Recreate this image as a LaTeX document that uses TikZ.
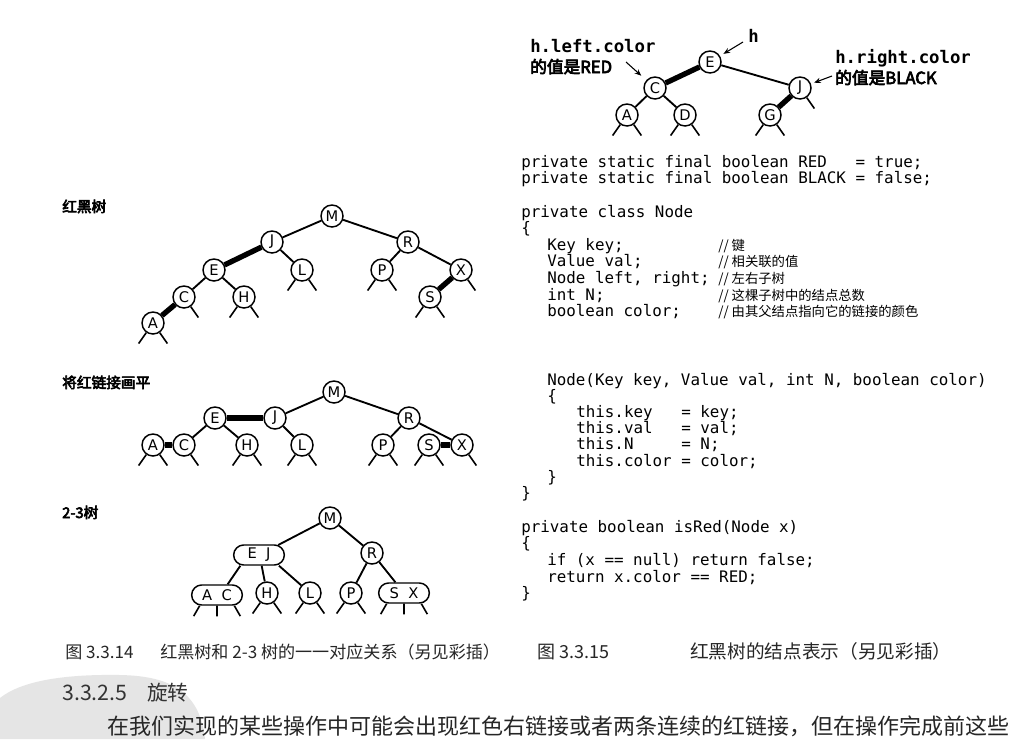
\documentclass[tikz,border=0pt]{standalone}
\usepackage{fontspec}
\setmainfont{Liberation Serif}
\setsansfont{DejaVu Sans}
\setmonofont{DejaVu Sans Mono}
\newfontfamily\cjk{Noto Sans CJK SC}
\newfontfamily\cjkbold[FakeBold=4]{Noto Sans CJK SC}
\usetikzlibrary{arrows.meta,shapes.misc}

\begin{document}
\begin{tikzpicture}[
    x = 0.75pt, y = -0.75pt, % one unit = one pixel of the scan
    rb/.style = {circle, draw, line width=1.1pt, fill=white, inner sep=0pt,
                 minimum size=16.5pt, font=\sffamily\fontsize{11}{11}\selectfont},
    keys/.style = {rounded rectangle, draw, line width=1.1pt, fill=white, inner sep=0pt,
                   minimum width=38pt, minimum height=15pt, font=\sffamily\fontsize{11}{11}\selectfont},
    blacklink/.style = {line width=1.4pt},
    redlink/.style = {line width=4pt},
    nulllink/.style = {line width=1.2pt},
    ptr/.style = {-{Stealth[length=5pt,width=4pt]}, line width=0.8pt},
    code/.style = {anchor=base west, inner sep=0pt, font=\ttfamily\fontsize{11.9}{12}\selectfont},
    remark/.style = {anchor=base west, inner sep=0pt, font=\cjk\fontsize{10}{10}\selectfont},
    label/.style = {anchor=base west, inner sep=0pt, font=\cjkbold\fontsize{11}{12}\selectfont},
    caption/.style = {anchor=base west, inner sep=0pt, font=\cjk\fontsize{12.8}{13}\selectfont, text=black!85}
    ]

    \path[use as bounding box, fill=white] (0,0) rectangle (1035,739);

    % grey blob behind the section heading
    \fill[gray!20] (0,739) -- (0,698) .. controls (20,682) and (60,674) .. (120,675)
        .. controls (175,676) and (200,695) .. (205,739) -- cycle;

    % ---- node of a red-black tree (top right)
    \node[rb] (hE) at (710,62) {E};
    \node[rb] (hC) at (655,88) {C};
    \node[rb] (hJ) at (800,88) {J};
    \node[rb] (hA) at (627,115) {A};
    \node[rb] (hD) at (685,115) {D};
    \node[rb] (hG) at (770,115) {G};
    \draw[redlink] (hE) -- (hC);
    \draw[blacklink] (hE) -- (hJ);
    \draw[blacklink] (hC) -- (hA);
    \draw[blacklink] (hC) -- (hD);
    \draw[redlink] (hJ) -- (hG);
    \foreach \n in {hA,hD,hG}
        \draw[nulllink] (\n.235) -- ++(235:10pt) (\n.-55) -- ++(-55:10pt);
    \draw[nulllink] (hJ.-55) -- ++(-55:10pt);

    \node[anchor=base west, inner sep=0pt, font=\ttfamily\bfseries\fontsize{13}{14}\selectfont]
        (lefttxt) at (530,52) {h.left.color};
    \node[anchor=base west, inner sep=0pt, font=\cjkbold\fontsize{12.5}{13}\selectfont]
        (leftval) at (530,73) {的值是RED};
    \node[anchor=base west, inner sep=0pt, font=\ttfamily\bfseries\fontsize{13}{14}\selectfont]
        (htxt) at (748,42) {h};
    \node[anchor=base west, inner sep=0pt, font=\ttfamily\bfseries\fontsize{13}{14}\selectfont]
        (righttxt) at (835,63) {h.right.color};
    \node[anchor=base west, inner sep=0pt, font=\cjkbold\fontsize{12.5}{13}\selectfont]
        (rightval) at (835,84) {的值是BLACK};
    \coordinate (redtail) at (626,62);
    \coordinate (htail) at (743,42);
    \coordinate (blacktail) at (832,76);
    \draw[ptr, shorten >=5pt] (redtail) -- (hC);
    \draw[ptr, shorten >=3pt] (htail) -- (hE);
    \draw[ptr, shorten >=2.5pt] (blacktail) -- (hJ);

    % ---- code
    \node[code] (c1) at (521,167) {private static final boolean RED~~~= true;};
    \node[code] (c2) at (521,183) {private static final boolean BLACK = false;};
    \node[code] (c3) at (521,217) {private class Node};
    \node[code] (c4) at (521,233) {\{};
    \node[code] (c5) at (547,250) {Key key;};
    \node[code] (c6) at (547,266) {Value val;};
    \node[code] (c7) at (547,283) {Node left, right;};
    \node[code] (c8) at (547,300) {int N;};
    \node[code] (c9) at (547,316) {boolean color;};
    \node[remark] (r5) at (718,250) {// 键};
    \node[remark] (r6) at (718,266) {// 相关联的值};
    \node[remark] (r7) at (718,283) {// 左右子树};
    \node[remark] (r8) at (718,300) {// 这棵子树中的结点总数};
    \node[remark] (r9) at (718,316) {// 由其父结点指向它的链接的颜色};
    \node[code] (c10) at (547,385) {Node(Key key, Value val, int N, boolean color)};
    \node[code] (c11) at (547,401) {\{};
    \node[code] (c12) at (576,417) {this.key~~~= key;};
    \node[code] (c13) at (576,433) {this.val~~~= val;};
    \node[code] (c14) at (576,449) {this.N~~~~~= N;};
    \node[code] (c15) at (576,466) {this.color = color;};
    \node[code] (c16) at (547,482) {\}};
    \node[code] (c17) at (521,498) {\}};
    \node[code] (c18) at (521,532) {private boolean isRed(Node x)};
    \node[code] (c19) at (521,548) {\{};
    \node[code] (c20) at (547,565) {if (x == null) return false;};
    \node[code] (c21) at (547,582) {return x.color == RED;};
    \node[code] (c22) at (521,598) {\}};

    % ---- red-black tree
    \node[label] (rbname) at (62,212) {红黑树};
    \node[rb] (rbM) at (332,216) {M};
    \node[rb] (rbJ) at (272,242) {J};
    \node[rb] (rbR) at (408,242) {R};
    \node[rb] (rbE) at (214,270) {E};
    \node[rb] (rbL) at (302,270) {L};
    \node[rb] (rbP) at (382,270) {P};
    \node[rb] (rbX) at (461,270) {X};
    \node[rb] (rbC) at (184,297) {C};
    \node[rb] (rbH) at (244,297) {H};
    \node[rb] (rbS) at (430,297) {S};
    \node[rb] (rbA) at (153,323) {A};
    \draw[blacklink] (rbM) -- (rbJ);
    \draw[blacklink] (rbM) -- (rbR);
    \draw[redlink] (rbJ) -- (rbE);
    \draw[blacklink] (rbJ) -- (rbL);
    \draw[blacklink] (rbR) -- (rbP);
    \draw[blacklink] (rbR) -- (rbX);
    \draw[blacklink] (rbE) -- (rbC);
    \draw[blacklink] (rbE) -- (rbH);
    \draw[redlink] (rbX) -- (rbS);
    \draw[redlink] (rbC) -- (rbA);
    \foreach \n in {rbA,rbH,rbL,rbP,rbS}
        \draw[nulllink] (\n.235) -- ++(235:10pt) (\n.-55) -- ++(-55:10pt);
    \foreach \n in {rbC,rbX}
        \draw[nulllink] (\n.-55) -- ++(-55:10pt);

    % ---- red links drawn flat
    \node[label] (flatname) at (62,388) {将红链接画平};
    \node[rb] (flM) at (334,392) {M};
    \node[rb] (flE) at (215,418) {E};
    \node[rb] (flJ) at (275,418) {J};
    \node[rb] (flR) at (409,418) {R};
    \node[rb] (flA) at (153,445) {A};
    \node[rb] (flC) at (184,445) {C};
    \node[rb] (flH) at (247,445) {H};
    \node[rb] (flL) at (302,445) {L};
    \node[rb] (flP) at (383,445) {P};
    \node[rb] (flS) at (429,445) {S};
    \node[rb] (flX) at (462,445) {X};
    \draw[blacklink] (flM) -- (flJ);
    \draw[blacklink] (flM) -- (flR);
    \draw[redlink] (flE) -- (flJ);
    \draw[blacklink] (flE) -- (flC);
    \draw[blacklink] (flE) -- (flH);
    \draw[blacklink] (flJ) -- (flL);
    \draw[blacklink] (flR) -- (flP);
    \draw[blacklink] (flR) -- (flX);
    \draw[redlink] (flA) -- (flC);
    \draw[redlink] (flS) -- (flX);
    \foreach \n in {flA,flH,flL,flP,flS}
        \draw[nulllink] (\n.235) -- ++(235:10pt) (\n.-55) -- ++(-55:10pt);
    \foreach \n in {flC,flX}
        \draw[nulllink] (\n.-55) -- ++(-55:10pt);

    % ---- 2-3 tree
    \node[label] (ttname) at (62,518) {2-3树};
    \node[rb] (ttM) at (330,518) {M};
    \node[keys] (ttEJ) at (259,555) {E\hspace{7pt}J};
    \node[rb] (ttR) at (372,553) {R};
    \node[keys] (ttAC) at (217,595) {A\hspace{7pt}C};
    \node[rb] (ttH) at (267,593) {H};
    \node[rb] (ttL) at (310,593) {L};
    \node[rb] (ttP) at (351,593) {P};
    \node[keys] (ttSX) at (404,593) {S\hspace{7pt}X};
    \draw[blacklink] (ttM) -- (ttEJ);
    \draw[blacklink] (ttM) -- (ttR);
    \draw[blacklink] ([xshift=-14pt]ttEJ.south) -- ([xshift=8pt]ttAC.north);
    \draw[blacklink] ([xshift=2pt]ttEJ.south) -- (ttH);
    \draw[blacklink] ([xshift=15pt]ttEJ.south) -- (ttL);
    \draw[blacklink] (ttR) -- (ttP);
    \draw[blacklink] (ttR) -- (ttSX);
    \foreach \n in {ttH,ttL,ttP}
        \draw[nulllink] (\n.235) -- ++(235:10pt) (\n.-55) -- ++(-55:10pt);
    \foreach \n in {ttAC,ttSX}
        \draw[nulllink] ([xshift=-13pt]\n.south) -- ++(240:9pt)
                        (\n.south) -- ++(0,-8pt)
                        ([xshift=13pt]\n.south) -- ++(-60:9pt);

    % ---- captions and text below
    \node[caption] (cap1no) at (65,658) {图 3.3.14};
    \node[caption] (cap1) at (160,658) {红黑树和 2-3 树的一一对应关系（另见彩插）};
    \node[caption, font=\cjk\fontsize{13.5}{14}\selectfont] (cap2no) at (537,658) {图 3.3.15};
    \node[caption, font=\cjk\fontsize{14}{14}\selectfont] (cap2) at (690,658) {红黑树的结点表示（另见彩插）};
    \node[anchor=base west, inner sep=0pt, font=\cjk\fontsize{16}{17}\selectfont, text=black!80]
        (sectno) at (62,700) {3.3.2.5};
    \node[anchor=base west, inner sep=0pt, font=\cjk\fontsize{15.5}{17}\selectfont, text=black!80]
        (sect) at (147,700) {旋转};
    \node[anchor=base west, inner sep=0pt, font=\cjk\fontsize{16.5}{17}\selectfont, text=black!85]
        (body) at (107,734) {在我们实现的某些操作中可能会出现红色右链接或者两条连续的红链接，但在操作完成前这些};
\end{tikzpicture}
\end{document}
